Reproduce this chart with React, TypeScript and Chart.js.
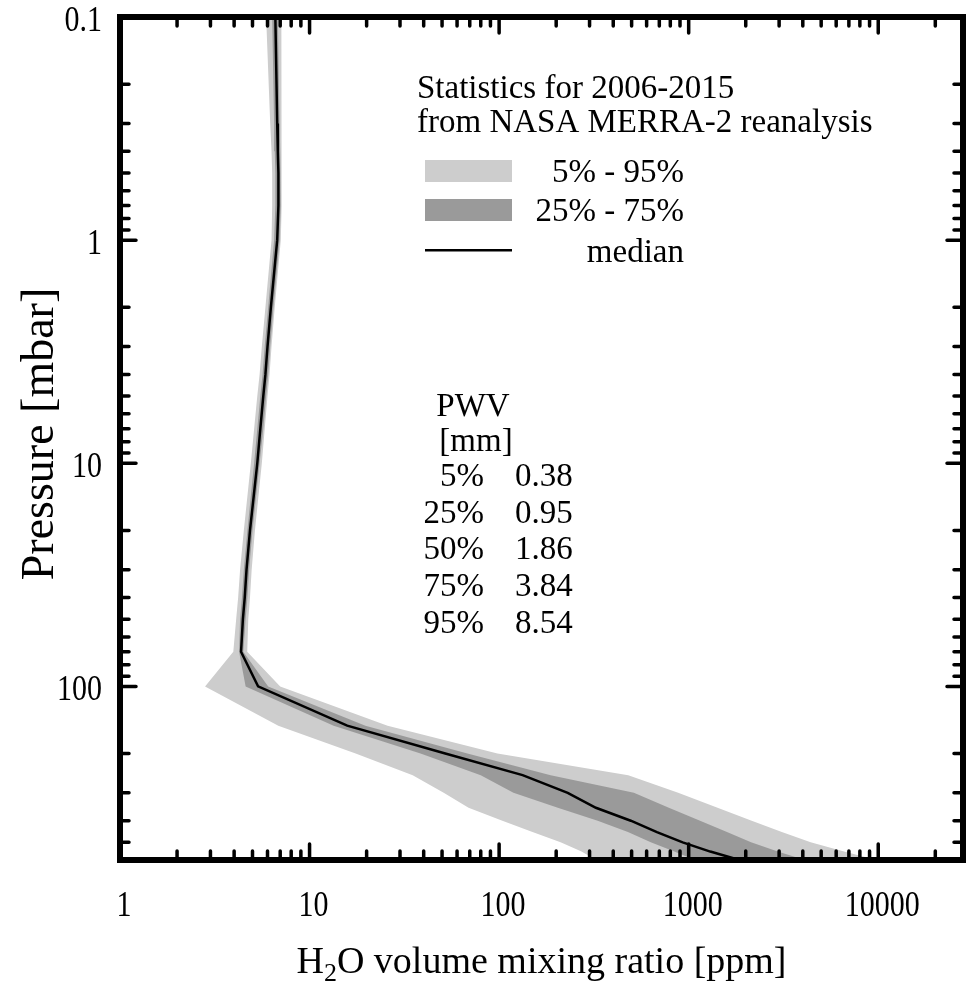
import React, { useEffect, useRef } from "react";
import { Chart, registerables } from "chart.js";

Chart.register(...registerables);

// Pressure levels [mbar]
const pressureLevels = [0.1, 0.3, 0.4, 0.5, 0.7, 1, 2, 3, 4, 5, 7, 10, 20, 30, 40, 50, 70, 100, 150, 200, 250, 300, 350, 400, 450, 500, 550, 600];
// H2O volume mixing ratio [ppm]
const medianPpm = [6.6, 6.75, 6.8, 6.85, 6.85, 6.75, 6.25, 6.0, 5.85, 5.7, 5.5, 5.3, 4.85, 4.65, 4.55, 4.45, 4.35, 5.35, 15.8, 52, 133, 230, 324, 495, 680, 930, 1300, 1850];
const p5Ppm = [5.9, 6.2, 6.3, 6.35, 6.35, 6.3, 5.85, 5.6, 5.45, 5.3, 5.1, 4.9, 4.5, 4.3, 4.2, 4.1, 3.96, 2.81, 6.84, 17.5, 35, 51, 69, 104, 150, 211, 272, 325];
const p25Ppm = [6.35, 6.5, 6.55, 6.6, 6.6, 6.5, 6.05, 5.8, 5.65, 5.5, 5.3, 5.1, 4.7, 4.5, 4.4, 4.3, 4.25, 4.6, 13.4, 38.5, 80, 119, 204, 331, 478, 631, 840, 1080];
const p75Ppm = [6.8, 6.95, 7.0, 7.05, 7.05, 6.95, 6.45, 6.2, 6.05, 5.9, 5.7, 5.45, 5.0, 4.8, 4.7, 4.6, 4.47, 6.05, 19.7, 68, 187, 514, 786, 1148, 1592, 2133, 2950, 4100];
const p95Ppm = [7.1, 7.1, 7.1, 7.15, 7.15, 7.05, 6.55, 6.3, 6.15, 6.0, 5.8, 5.6, 5.15, 4.95, 4.85, 4.75, 4.69, 7.0, 25.8, 98, 480, 880, 1420, 2150, 3100, 4400, 6600, 9800];

const xMajorTicks = [1, 10, 100, 1000, 10000];
const xTickLabels = ["1", "10", "100", "1000", "10000"];
const yMajorTicks = [0.1, 1, 10, 100];
const yTickLabels = ["0.1", "1", "10", "100"];

const pwvPercentiles = ["5%", "25%", "50%", "75%", "95%"];
const pwvValues = ["0.38", "0.95", "1.86", "3.84", "8.54"];
const legendLabels = ["5% - 95%", "25% - 75%", "median"];
const statsTitle = ["Statistics for 2006-2015", "from NASA MERRA-2 reanalysis"];

const X_MIN = 1;
const X_MAX = 28000;
const Y_MIN = 0.1;
const Y_MAX = 600;

const LIGHT = "#cdcdcd";
const DARK = "#9a9a9a";
const FONT = "'Liberation Serif', 'Times New Roman', serif";

function minorTicks(min: number, max: number): number[] {
  const out: number[] = [];
  for (let e = Math.floor(Math.log10(min)); e <= Math.ceil(Math.log10(max)); e++) {
    const d = Math.pow(10, e);
    for (let m = 2; m <= 9; m++) {
      const v = m * d;
      if (v > min * 1.0001 && v < max * 0.9999) out.push(v);
    }
  }
  return out;
}

const toXY = (vals: number[]) => vals.map((v, i) => ({ x: v, y: pressureLevels[i] }));

function tallText(ctx: CanvasRenderingContext2D, t: string, x: number, y: number, sy: number) {
  ctx.save();
  ctx.translate(x, y);
  ctx.scale(1, sy);
  ctx.fillText(t, 0, 0);
  ctx.restore();
}

const framePlugin = {
  id: "frameAndText",
  afterDraw(chart: any) {
    const ctx: CanvasRenderingContext2D = chart.ctx;
    const ca = chart.chartArea;
    const xs = chart.scales.x;
    const ys = chart.scales.y;
    ctx.save();
    ctx.strokeStyle = "#000";
    ctx.fillStyle = "#000";
    ctx.lineCap = "round";
    ctx.lineWidth = 3.5;
    const majorLen = 16;
    const minorLen = 9;
    const drawX = (v: number, len: number) => {
      const px = xs.getPixelForValue(v);
      ctx.beginPath();
      ctx.moveTo(px, ca.bottom);
      ctx.lineTo(px, ca.bottom - len);
      ctx.moveTo(px, ca.top);
      ctx.lineTo(px, ca.top + len);
      ctx.stroke();
    };
    const drawY = (v: number, len: number) => {
      const py = ys.getPixelForValue(v);
      ctx.beginPath();
      ctx.moveTo(ca.left, py);
      ctx.lineTo(ca.left + len, py);
      ctx.moveTo(ca.right, py);
      ctx.lineTo(ca.right - len, py);
      ctx.stroke();
    };
    minorTicks(X_MIN, X_MAX).forEach((v) => drawX(v, minorLen));
    xMajorTicks.forEach((v) => drawX(v, majorLen));
    minorTicks(Y_MIN, Y_MAX).forEach((v) => drawY(v, minorLen));
    yMajorTicks.forEach((v) => drawY(v, majorLen));

    ctx.lineCap = "butt";
    ctx.lineJoin = "miter";
    ctx.lineWidth = 6;
    ctx.strokeRect(ca.left, ca.top, ca.right - ca.left, ca.bottom - ca.top);

    // tick labels
    ctx.font = `30px ${FONT}`;
    ctx.textAlign = "center";
    ctx.textBaseline = "alphabetic";
    xMajorTicks.forEach((v, i) => {
      tallText(ctx, xTickLabels[i], xs.getPixelForValue(v) + 4, ca.bottom + 56, 1.2);
    });
    ctx.textAlign = "right";
    yMajorTicks.forEach((v, i) => {
      tallText(ctx, yTickLabels[i], ca.left - 18, ys.getPixelForValue(v) + 14, 1.2);
    });

    // x title with subscript
    const big = `38px ${FONT}`;
    const small = `26px ${FONT}`;
    const parts = [
      { t: "H", f: big, dy: 0 },
      { t: "2", f: small, dy: 8 },
      { t: "O volume mixing ratio [ppm]", f: big, dy: 0 },
    ];
    let total = 0;
    parts.forEach((p) => {
      ctx.font = p.f;
      total += ctx.measureText(p.t).width;
    });
    let cx = (ca.left + ca.right) / 2 - total / 2;
    ctx.textAlign = "left";
    parts.forEach((p) => {
      ctx.font = p.f;
      ctx.fillText(p.t, cx, 973 + p.dy);
      cx += ctx.measureText(p.t).width;
    });

    // y title
    ctx.save();
    ctx.translate(53, 434);
    ctx.rotate(-Math.PI / 2);
    ctx.font = `46px ${FONT}`;
    ctx.textAlign = "center";
    ctx.fillText("Pressure [mbar]", 0, 0);
    ctx.restore();

    // statistics title + legend
    ctx.font = `33px ${FONT}`;
    ctx.textAlign = "left";
    ctx.fillText(statsTitle[0], 417, 98);
    ctx.fillText(statsTitle[1], 417, 132);
    ctx.fillStyle = LIGHT;
    ctx.fillRect(425, 160, 87, 22);
    ctx.fillStyle = DARK;
    ctx.fillRect(425, 199, 87, 22);
    ctx.fillStyle = "#000";
    ctx.fillRect(425, 249, 87, 2.5);
    ctx.textAlign = "right";
    ctx.fillText(legendLabels[0], 684, 182);
    ctx.fillText(legendLabels[1], 684, 221);
    ctx.fillText(legendLabels[2], 684, 262);

    // PWV table
    ctx.textAlign = "center";
    ctx.fillText("PWV", 473, 416);
    ctx.fillText("[mm]", 476, 451);
    pwvPercentiles.forEach((p, i) => {
      const y = 486 + i * 36.7;
      ctx.textAlign = "right";
      ctx.fillText(p, 484, y);
      ctx.textAlign = "left";
      ctx.fillText(pwvValues[i], 515, y);
    });
    ctx.restore();
  },
};

export default function App() {
  const ref = useRef<HTMLCanvasElement | null>(null);
  useEffect(() => {
    if (!ref.current) return;
    const chart = new Chart(ref.current, {
      type: "line",
      data: {
        datasets: [
          {
            label: "median",
            data: toXY(medianPpm),
            borderColor: "#000",
            borderWidth: 2.5,
            pointRadius: 0,
            fill: false,
            tension: 0,
          },
          {
            label: "75%",
            data: toXY(p75Ppm),
            borderColor: "rgba(0,0,0,0)",
            borderWidth: 0,
            pointRadius: 0,
            backgroundColor: DARK,
            fill: "+1",
          },
          {
            label: "25%",
            data: toXY(p25Ppm),
            borderColor: "rgba(0,0,0,0)",
            borderWidth: 0,
            pointRadius: 0,
            fill: false,
          },
          {
            label: "95%",
            data: toXY(p95Ppm),
            borderColor: "rgba(0,0,0,0)",
            borderWidth: 0,
            pointRadius: 0,
            backgroundColor: LIGHT,
            fill: "+1",
          },
          {
            label: "5%",
            data: toXY(p5Ppm),
            borderColor: "rgba(0,0,0,0)",
            borderWidth: 0,
            pointRadius: 0,
            fill: false,
          },
        ],
      },
      options: {
        indexAxis: "y",
        animation: false,
        responsive: false,
        devicePixelRatio: 1,
        layout: { padding: { left: 120, top: 17, right: 13, bottom: 124 } },
        plugins: {
          legend: { display: false },
          tooltip: { enabled: false },
          filler: { propagate: false },
        },
        scales: {
          x: { type: "logarithmic", min: X_MIN, max: X_MAX, display: false },
          y: { type: "logarithmic", min: Y_MIN, max: Y_MAX, reverse: true, display: false },
        },
      },
      plugins: [framePlugin],
    } as any);
    return () => chart.destroy();
  }, []);
  return (
    <div style={{ position: "absolute", left: 0, top: 0, width: 976, height: 984, background: "#fff" }}>
      <canvas ref={ref} width={976} height={984} style={{ display: "block" }} />
    </div>
  );
}
